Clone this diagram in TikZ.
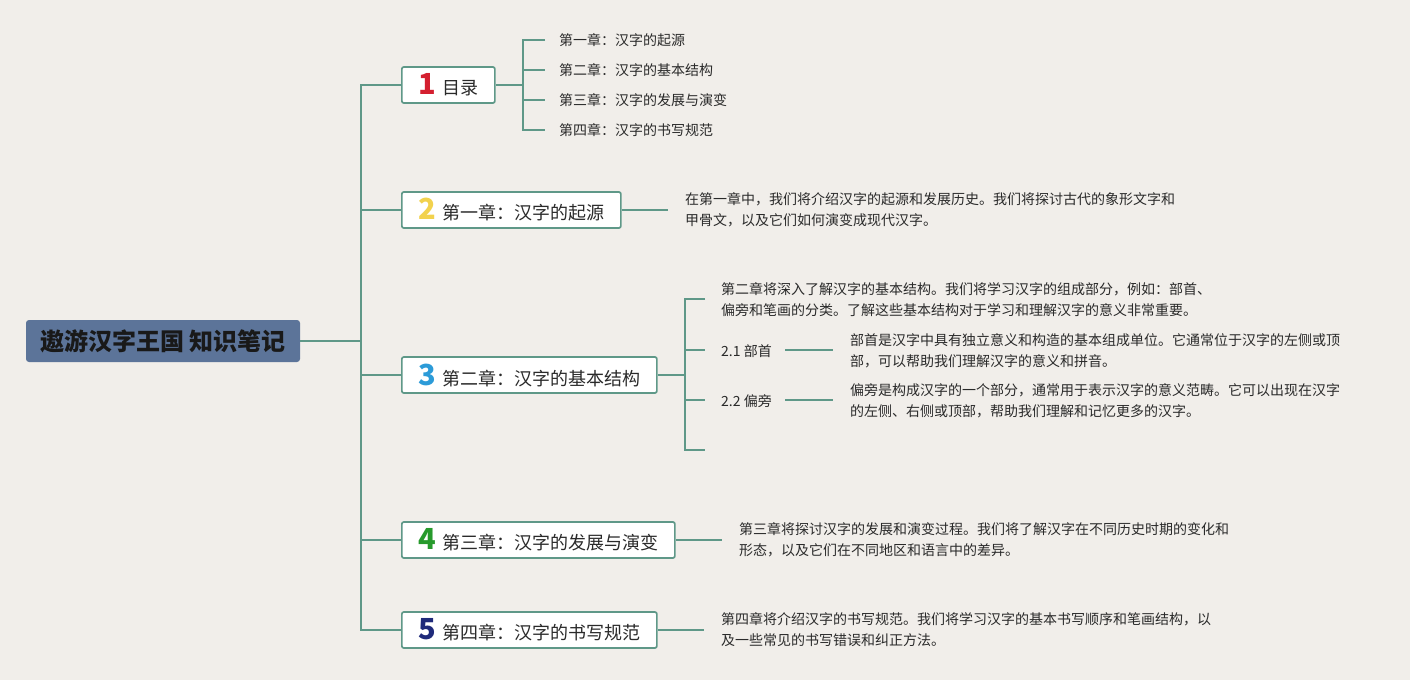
\documentclass[tikz,border=0pt]{standalone}
\usepackage{fontspec}
\setmainfont{Noto Sans CJK SC}
\usetikzlibrary{positioning}

\definecolor{bgcol}{HTML}{F1EEEA}
\definecolor{linecol}{HTML}{5F9888}
\definecolor{rootcol}{HTML}{5C7499}
\definecolor{textcol}{HTML}{2A2A2A}
\definecolor{numred}{HTML}{D41F2F}
\definecolor{numyellow}{HTML}{F2D24E}
\definecolor{numblue}{HTML}{2C9BD8}
\definecolor{numgreen}{HTML}{279A2C}
\definecolor{numnavy}{HTML}{1F2A7A}

\newcommand{\chapnum}[2]{{\fontsize{29}{29}\selectfont\bfseries\color{#1}#2}\hspace{6pt}}

\tikzset{
  conn/.style={draw=linecol, line width=1.7pt},
  branchbox/.style={draw=linecol, line width=1.7pt, fill=white, rounded corners=2pt,
    minimum height=36pt, inner xsep=0pt, anchor=west, text=textcol,
    font=\fontsize{18}{18}\selectfont},
  leaftext/.style={anchor=west, align=left, inner sep=0pt, text=textcol,
    font=\fontsize{14}{21}\selectfont}
}

\begin{document}
\begin{tikzpicture}[x=1pt, y=-1pt]
        \fill[bgcol] (0,0) rectangle (1410,680);
        \useasboundingbox (0,0) rectangle (1410,680);

        % hlavní uzel
        \node[fill=rootcol, rounded corners=3pt, minimum width=274pt, minimum height=42pt,
          font=\fontsize{24}{24}\selectfont\bfseries, text=black!90]
          (root) at (163,341) {遨游汉字王国 知识笔记};
        \coordinate (trunk) at (361,341);

        % větve
        \node[branchbox, minimum width=93pt] (ch1) at (401,85) {\chapnum{numred}{1}目录};
        \node[branchbox, minimum width=219pt] (ch2) at (401,210) {\chapnum{numyellow}{2}第一章：汉字的起源};
        \node[branchbox, minimum width=255pt] (ch3) at (401,375) {\chapnum{numblue}{3}第二章：汉字的基本结构};
        \node[branchbox, minimum width=273pt] (ch4) at (401,540) {\chapnum{numgreen}{4}第三章：汉字的发展与演变};
        \node[branchbox, minimum width=255pt] (ch5) at (401,630) {\chapnum{numnavy}{5}第四章：汉字的书写规范};

        \draw[conn] (root.east) -- (trunk);
        \draw[conn] (ch1.west) -| (trunk) |- (ch5.west);
        \foreach \c in {ch2, ch3, ch4}
          \draw[conn] (trunk|-\c.west) -- (\c.west);

        % obsah
        \coordinate (toc) at (523,85);
        \foreach \t [count=\i] in {第一章：汉字的起源, 第二章：汉字的基本结构, 第三章：汉字的发展与演变, 第四章：汉字的书写规范} {
          \node[leaftext, font=\fontsize{14}{16}\selectfont] (toc\i) at (559,10+30*\i) {\t};
          \coordinate (tocend\i) at (545,10+30*\i);
        }
        \draw[conn] (ch1.east) -- (toc);
        \draw[conn] (tocend1) -| (toc) |- (tocend4);
        \draw[conn] (toc|-tocend2) -- (tocend2);
        \draw[conn] (toc|-tocend3) -- (tocend3);

        % první kapitola
        \node[leaftext] (ch2text) at (685,210)
          {在第一章中，我们将介绍汉字的起源和发展历史。我们将探讨古代的象形文字和\\甲骨文，以及它们如何演变成现代汉字。};
        \coordinate (ch2end) at (668,210);
        \draw[conn] (ch2.east) -- (ch2end);

        % druhá kapitola
        \coordinate (sub) at (685,375);
        \node[leaftext] (ch3text) at (721,300)
          {第二章将深入了解汉字的基本结构。我们将学习汉字的组成部分，例如：部首、\\偏旁和笔画的分类。了解这些基本结构对于学习和理解汉字的意义非常重要。};
        \node[leaftext] (bushou) at (721,351) {2.1 部首};
        \node[leaftext] (pianpang) at (721,401) {2.2 偏旁};
        \node[leaftext] (bushoutext) at (850,351)
          {部首是汉字中具有独立意义和构造的基本组成单位。它通常位于汉字的左侧或顶\\部，可以帮助我们理解汉字的意义和拼音。};
        \node[leaftext] (pianpangtext) at (850,401)
          {偏旁是构成汉字的一个部分，通常用于表示汉字的意义范畴。它可以出现在汉字\\的左侧、右侧或顶部，帮助我们理解和记忆更多的汉字。};
        \coordinate (subA) at (705,299);
        \coordinate (subB) at (705,350);
        \coordinate (subC) at (705,400);
        \coordinate (subD) at (705,450);
        \coordinate (bushoustart) at (785,350);
        \coordinate (bushouend) at (833,350);
        \coordinate (pianpangstart) at (785,400);
        \coordinate (pianpangend) at (833,400);
        \draw[conn] (ch3.east) -- (sub);
        \draw[conn] (subA) -| (sub) |- (subD);
        \draw[conn] (sub|-subB) -- (subB);
        \draw[conn] (sub|-subC) -- (subC);
        \draw[conn] (bushoustart) -- (bushouend);
        \draw[conn] (pianpangstart) -- (pianpangend);

        % třetí kapitola
        \node[leaftext] (ch4text) at (739,540)
          {第三章将探讨汉字的发展和演变过程。我们将了解汉字在不同历史时期的变化和\\形态，以及它们在不同地区和语言中的差异。};
        \coordinate (ch4end) at (722,540);
        \draw[conn] (ch4.east) -- (ch4end);

        % čtvrtá kapitola
        \node[leaftext] (ch5text) at (721,630)
          {第四章将介绍汉字的书写规范。我们将学习汉字的基本书写顺序和笔画结构，以\\及一些常见的书写错误和纠正方法。};
        \coordinate (ch5end) at (704,630);
        \draw[conn] (ch5.east) -- (ch5end);
    \end{tikzpicture}
\end{document}
